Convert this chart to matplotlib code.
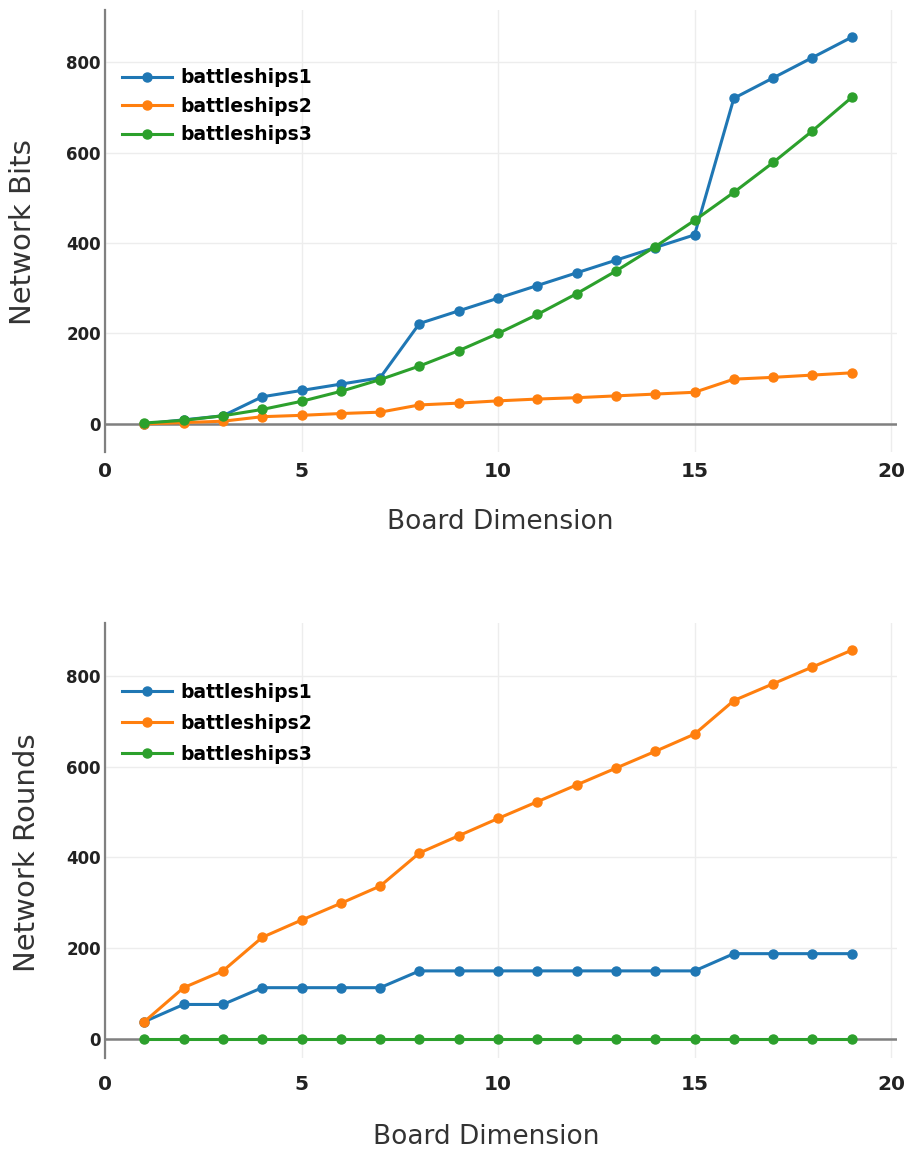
import numpy as np
import matplotlib
matplotlib.use('Agg')
import matplotlib.pyplot as plt

# board dimension
dims = list(range(1, 20))
series_names = ['battleships1', 'battleships2', 'battleships3']
colors = ['#1f77b4', '#ff7f0e', '#2ca02c']

# network bits
bits1 = [0, 9, 18, 60, 74, 88, 102, 222, 250, 278, 306, 334, 362, 390, 418, 720, 765, 810, 855]
bits2 = [0, 3, 6, 16, 19, 23, 26, 42, 46, 51, 55, 58, 62, 66, 70, 99, 103, 108, 113]
bits3 = [2, 8, 18, 32, 50, 72, 98, 128, 162, 200, 242, 288, 338, 392, 450, 512, 578, 648, 722]

# network rounds
rounds1 = [38, 76, 76, 113, 113, 113, 113, 150, 150, 150, 150, 150, 150, 150, 150, 188, 188, 188, 188]
rounds2 = [38, 113, 150, 224, 262, 299, 337, 410, 448, 486, 523, 560, 597, 634, 672, 746, 783, 820, 857]
rounds3 = [0] * 19

fig = plt.figure(figsize=(9.1, 11.53), dpi=100)


def setup(ax, ylim, ylabel, ylab_xy, xlab_xy, xpad, leg_anchor, leg_space):
    ax.set_xlim(0, 20.15)
    ax.set_ylim(*ylim)
    for s in ['top', 'right', 'bottom']:
        ax.spines[s].set_visible(False)
    ax.spines['left'].set_color('#808080')
    ax.spines['left'].set_linewidth(1.6)
    ax.axhline(0, color='#808080', lw=1.8, zorder=1)
    ax.set_xticks([0, 5, 10, 15, 20])
    ax.set_yticks([0, 200, 400, 600, 800])
    ax.grid(True, color='#ededed', lw=1)
    ax.set_axisbelow(True)
    ax.tick_params(axis='both', length=0, colors='#222222')
    ax.tick_params(axis='x', labelsize=14.5, pad=xpad)
    ax.tick_params(axis='y', labelsize=12, pad=3)
    for t in ax.get_xticklabels() + ax.get_yticklabels():
        t.set_fontweight('bold')
    ax.set_ylabel(ylabel, fontsize=21, color='#333333')
    ax.yaxis.set_label_coords(*ylab_xy)
    ax.yaxis.label.set_verticalalignment('center')
    ax.set_xlabel('Board Dimension', fontsize=19, color='#333333')
    ax.xaxis.set_label_coords(*xlab_xy)
    ax.xaxis.label.set_verticalalignment('center')
    ax.legend(loc='upper left', bbox_to_anchor=leg_anchor, frameon=False,
              prop={'weight': 'bold', 'size': 13.5}, handlelength=2.7,
              handletextpad=0.45, labelspacing=leg_space, borderpad=0,
              borderaxespad=0)


ax1 = fig.add_axes([0.1154, 0.608, 0.8703, 0.3833])
for ys, name, c in zip([bits1, bits2, bits3], series_names, colors):
    ax1.plot(dims, ys, color=c, lw=2.2, marker='o', ms=6.5, label=name, zorder=3)
setup(ax1, (-62, 915), 'Network Bits', (-0.1035, 0.498), (0.499, -0.158), 7,
      (0.021, 0.868), 0.51)

ax2 = fig.add_axes([0.1154, 0.0824, 0.8703, 0.3773])
for ys, name, c in zip([rounds1, rounds2, rounds3], series_names, colors):
    ax2.plot(dims, ys, color=c, lw=2.2, marker='o', ms=6.5, label=name, zorder=3)
setup(ax2, (-42, 917), 'Network Rounds', (-0.098, 0.471), (0.481, -0.182), 12,
      (0.021, 0.863), 0.65)

fig.savefig('out.png', dpi=100)
